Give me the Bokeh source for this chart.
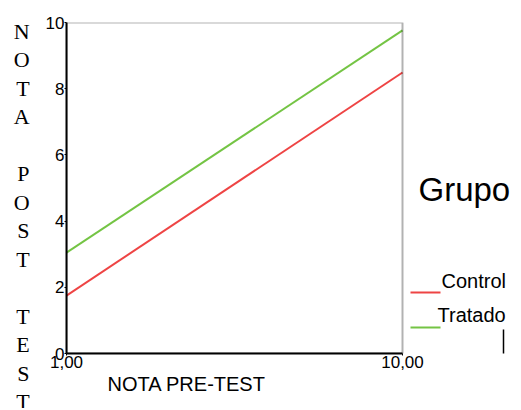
from bokeh.plotting import figure
from bokeh.models import (Range1d, FixedTicker, Title, Label, Arrow, BoxAnnotation)
from bokeh.embed import file_html
from bokeh.resources import INLINE

# ---- data ----
pre_test = [1.0, 10.0]
control = [1.75, 8.49]
tratado = [3.05, 9.76]
series_names = ["Control", "Tratado"]
series_colors = ["#ee4444", "#74c444"]
x_ticks = [1, 10]
x_tick_labels = ["1,00", "10,00"]
y_ticks = [0, 2, 4, 6, 8, 10]
y_tick_labels = ["0", "2", "4", "6", "8", "10"]
y_title = "NOTA POST TEST"
x_title = "NOTA PRE-TEST"
legend_title = "Grupo"

W, H = 515, 408
LEFT, TOP, BOX_RIGHT, BOTTOM = 66, 22, 402, 353
box_w = BOX_RIGHT - LEFT
x0, x1 = x_ticks[0], x_ticks[-1]
# frame extends to the right edge so that the legend area is drawable
x_end = x0 + (x1 - x0) * (W - LEFT) / box_w

p = figure(width=W, height=H, output_backend="svg", toolbar_location=None,
           x_range=Range1d(x0, x_end), y_range=Range1d(y_ticks[0], y_ticks[-1]),
           min_border_left=LEFT, min_border_right=0, min_border_top=TOP,
           min_border_bottom=H - BOTTOM)
p.xgrid.visible = False
p.ygrid.visible = False
p.background_fill_color = "white"
p.border_fill_color = "white"
p.outline_line_alpha = 0

sans = "Liberation Sans"
for ax in (p.xaxis[0], p.yaxis[0]):
    ax.axis_line_width = 2
    ax.axis_line_color = "black"
    ax.major_tick_in = 0
    ax.major_tick_out = 2
    ax.minor_tick_in = 0
    ax.minor_tick_out = 0
    ax.major_label_text_font = sans
    ax.major_label_text_font_size = "17px"
    ax.major_label_text_color = "black"
    ax.major_label_standoff = 0

p.xaxis.bounds = (x0, x1)
p.xaxis.ticker = FixedTicker(ticks=x_ticks)
p.xaxis.major_label_overrides = {t: l for t, l in zip(x_ticks, x_tick_labels)}
p.yaxis.ticker = FixedTicker(ticks=y_ticks)
p.yaxis.major_label_overrides = {t: l for t, l in zip(y_ticks, y_tick_labels)}

# plot box (top and right edges)
p.add_layout(BoxAnnotation(left=x0, right=x1, bottom=y_ticks[0], top=y_ticks[-1],
                           fill_alpha=0, line_color="black", line_width=2))

# stacked upright letters as the y-axis title
p.yaxis.axis_label = "\n\n" + "\n".join(list(y_title))
p.yaxis.axis_label_orientation = "horizontal"
p.yaxis.axis_label_text_font = "Liberation Serif"
p.yaxis.axis_label_text_font_size = "22px"
p.yaxis.axis_label_text_font_style = "normal"
p.yaxis.axis_label_text_color = "black"
p.yaxis.axis_label_text_align = "center"
p.yaxis.axis_label_text_line_height = 1.14
p.yaxis.axis_label_standoff = 13

p.line(pre_test, control, line_color=series_colors[0], line_width=2)
p.line(pre_test, tratado, line_color=series_colors[1], line_width=2)

p.add_layout(Title(text=x_title, align="left", offset=41, text_font=sans,
                   text_font_size="20px", text_font_style="normal",
                   text_color="black", standoff=0), "below")

# legend block (screen units relative to the frame's bottom-left)
p.add_layout(Label(x=352, y=164, x_units="screen", y_units="screen", text=legend_title,
                   text_font=sans, text_font_size="33px", text_color="black",
                   text_align="left", text_baseline="alphabetic"))
item_text_x = [375, 371]
item_text_y = [73, 39]
swatch_y = [61, 26]
for name, col, tx, ty, sy in zip(series_names, series_colors, item_text_x, item_text_y, swatch_y):
    p.add_layout(Arrow(x_start=344, y_start=sy, x_end=374, y_end=sy,
                       start_units="screen", end_units="screen", start=None, end=None,
                       line_color=col, line_width=2))
    p.add_layout(Label(x=tx, y=ty, x_units="screen", y_units="screen", text=name,
                       text_font=sans, text_font_size="20px", text_color="black",
                       text_align="left", text_baseline="alphabetic"))
p.add_layout(Arrow(x_start=437, y_start=24, x_end=437, y_end=-4,
                   start_units="screen", end_units="screen", start=None, end=None,
                   line_color="black", line_width=1.5))

open("out.html", "w").write(file_html(p, INLINE))
